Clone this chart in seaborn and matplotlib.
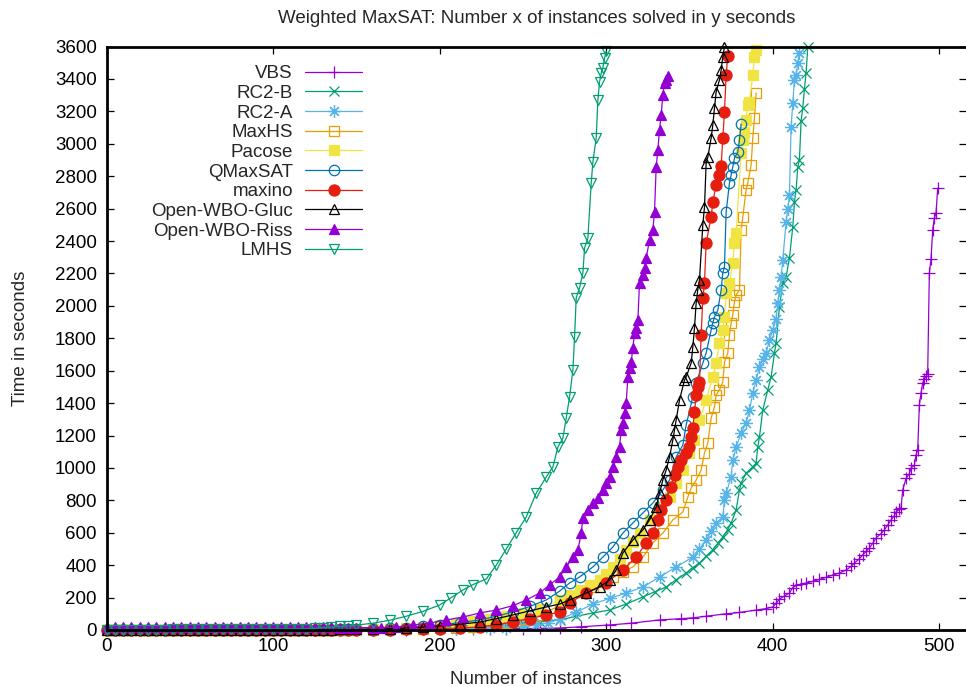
import matplotlib
matplotlib.use("Agg")
import matplotlib.pyplot as plt
import numpy as np
import pandas as pd
import seaborn as sns

# ---------------- data ----------------
title = "Weighted MaxSAT: Number x of instances solved in y seconds"
x_label = "Number of instances"
y_label = "Time in seconds"
solvers = ["VBS", "RC2-B", "RC2-A", "MaxHS", "Pacose", "QMaxSAT", "maxino",
           "Open-WBO-Gluc", "Open-WBO-Riss", "LMHS"]
x_ticks = [0, 100, 200, 300, 400, 500]
y_ticks = [0, 200, 400, 600, 800, 1000, 1200, 1400, 1600, 1800, 2000, 2200,
           2400, 2600, 2800, 3000, 3200, 3400, 3600]

# instance counts of the flat start shared by all solvers
early_n = [0, 5, 10, 15, 20, 25, 30, 35, 40, 45, 50, 55, 60, 65, 70, 75, 80,
           85, 90, 95, 100, 105, 110, 115, 120, 125, 130, 135, 140, 145, 150]

vbs_early = [1, 1, 1, 1, 1, 1, 1, 1, 1, 1, 1, 1, 1, 1, 1, 1, 1, 1, 1, 1, 2,
             2, 2, 2, 2, 2, 2, 2, 2, 2, 2]
vbs_n = [160, 170, 180, 190, 200, 210, 220, 230, 240, 250, 260,
         272, 285, 302, 315, 332, 345, 352, 360, 372, 380, 390, 396, 400, 402,
         404, 407, 410, 412, 414, 417, 420, 424, 428, 432, 436, 440, 444, 447,
         449, 452, 454, 456, 458, 460, 462, 465, 467, 469, 471, 473, 474, 476,
         477, 478, 480, 482, 483, 485, 486, 487, 488, 489, 490, 491, 492, 493,
         494, 495, 496, 497, 498, 499]
vbs_t = [2, 3, 3, 4, 4, 5, 6, 7, 8, 9, 10,
         12, 20, 31, 42, 62, 70, 75, 85, 100, 108, 123, 132, 142, 165,
         190, 210, 228, 262, 275, 283, 290, 300, 312, 325, 339, 352, 370, 392,
         413, 440, 463, 485, 506, 535, 568, 595, 617, 648, 679, 705, 728, 745,
         755, 864, 935, 965, 1000, 1018, 1080, 1111, 1388, 1462, 1524, 1549,
         1565, 1580, 2203, 2289, 2468, 2541, 2572, 2726]

rc2b_early = [2, 2, 2, 2, 2, 2, 2, 2, 2, 2, 2, 2, 2, 2, 2, 2, 2, 3, 3, 3, 3,
              3, 3, 3, 3, 3, 3, 3, 3, 4, 4]
rc2b_n = [160, 170, 180, 190, 200, 210, 220, 230, 240, 250, 260,
          272, 282, 292, 302, 312, 322, 329, 336, 342, 348, 352, 356, 360, 364,
          367, 370, 373, 375, 378, 380, 381, 384, 388, 390, 391, 392, 394, 397,
          399, 401, 402, 404, 406, 408, 410, 412, 413, 414, 415, 416, 417, 418,
          419, 420, 421]
rc2b_t = [5, 7, 10, 13, 18, 23, 28, 33, 38, 44, 50,
          62, 85, 105, 123, 160, 204, 235, 265, 310, 352, 385, 413, 455, 494,
          535, 574, 620, 660, 740, 864, 907, 968, 1006, 1030, 1129, 1191, 1357,
          1481, 1561, 1709, 1770, 1993, 2141, 2178, 2295, 2486, 2641, 2715,
          2857, 2900, 3140, 3221, 3338, 3437, 3597]

rc2a_early = [2, 2, 2, 2, 2, 2, 2, 2, 2, 2, 2, 2, 2, 2, 2, 2, 2, 2, 2, 3, 3,
              3, 3, 3, 3, 3, 3, 3, 3, 3, 4]
rc2a_n = [160, 170, 180, 190, 200, 210, 220, 230, 240, 250,
          258, 265, 272, 282, 292, 302, 312, 322, 332, 342, 352, 356, 360, 363,
          366, 370, 371, 372, 375, 376, 378, 381, 384, 386, 388, 390, 392, 394,
          396, 398, 400, 402, 403, 404, 405, 406, 408, 409, 410, 411, 412, 413,
          414, 415, 416]
rc2a_t = [4, 5, 6, 7, 8, 9, 10, 11, 15, 22,
          30, 45, 65, 110, 160, 195, 228, 265, 327, 389, 450, 500, 555, 610,
          660, 697, 802, 845, 944, 1049, 1129, 1215, 1277, 1357, 1462, 1542,
          1623, 1670, 1709, 1789, 1850, 1920, 2018, 2098, 2178, 2283, 2517,
          2600, 2684, 3104, 3250, 3394, 3425, 3500, 3560]

maxhs_early = [1, 1, 1, 1, 1, 1, 1, 1, 1, 1, 1, 1, 2, 2, 2, 2, 2, 2, 2, 2, 2,
               2, 2, 2, 2, 2, 2, 2, 2, 3, 3]
maxhs_n = [160, 170, 180, 190, 200, 210, 220, 230, 240, 250, 260,
           272, 278, 285, 292, 298, 304, 310, 316, 322, 328, 334, 340, 346,
           349, 351, 354, 357, 359, 361, 363, 365, 366, 368, 370, 371, 373,
           374, 375, 376, 377, 378, 380, 381, 382, 384, 385, 387, 388, 389, 390]
maxhs_t = [3, 4, 5, 7, 10, 15, 20, 30, 45, 65, 90,
           150, 204, 235, 265, 295, 327, 360, 389, 450, 537, 598, 679, 728,
           820, 876, 925, 987, 1092, 1154, 1308, 1376, 1450, 1481, 1530, 1654,
           1709, 1820, 1894, 1944, 2024, 2067, 2098, 2468, 2548, 2715, 2758,
           2869, 3036, 3159, 3313]

pacose_early = [1, 1, 1, 1, 1, 1, 1, 1, 1, 1, 2, 2, 2, 2, 2, 2, 2, 2, 2, 2, 2,
                2, 2, 2, 2, 2, 2, 3, 3, 3, 3]
pacose_n = [160, 170, 180, 190, 200, 210, 220, 230, 240, 250, 260,
            272, 278, 284, 290, 296, 300, 304, 308, 312, 316, 320, 326, 332,
            338, 342, 346, 350, 353, 356, 360, 364, 366, 368, 370, 371, 372,
            374, 376, 377, 378, 381, 382, 383, 384, 385, 386, 388, 389, 390]
pacose_t = [4, 7, 12, 20, 30, 42, 55, 70, 85, 105, 130,
            185, 215, 247, 280, 308, 345, 389, 440, 494, 545, 598, 679, 759,
            820, 907, 987, 1092, 1172, 1296, 1419, 1561, 1647, 1770, 1851,
            1931, 2079, 2141, 2264, 2388, 2450, 2943, 3023, 3073, 3147, 3240,
            3258, 3425, 3535, 3579]

qmaxsat_early = [1, 1, 1, 1, 1, 1, 1, 1, 1, 2, 2, 2, 2, 2, 2, 2, 2, 2, 2, 2,
                 2, 2, 3, 3, 3, 3, 3, 3, 4, 4, 5]
qmaxsat_n = [160, 170, 180, 190, 200, 212, 224, 234, 244, 254,
             264, 272, 278, 284, 292, 298, 304, 310, 316, 322, 328, 334, 338,
             342, 346, 348, 352, 354, 358, 360, 363, 364, 365, 367, 369, 370,
             371, 372, 374, 375, 376, 377, 379, 380, 381]
qmaxsat_t = [6, 10, 15, 22, 30, 45, 62, 85, 111, 145,
             185, 240, 290, 327, 389, 450, 512, 598, 660, 722, 783, 864, 925,
             1067, 1141, 1265, 1438, 1524, 1647, 1709, 1851, 1894, 1931, 1974,
             2098, 2203, 2240, 2579, 2758, 2807, 2857, 2912, 2949, 3023, 3122]

maxino_early = [1, 1, 1, 1, 1, 1, 1, 1, 1, 1, 1, 1, 1, 1, 1, 1, 1, 1, 1, 1, 1,
                1, 1, 1, 1, 1, 1, 1, 1, 1, 1]
maxino_n = [160, 170, 180, 190, 200, 212, 224, 234, 244, 254,
            264, 272, 278, 288, 300, 310, 318, 324, 328, 331, 333, 336, 339,
            341, 343, 345, 348, 350, 351, 352, 353, 354, 355, 356, 357, 358,
            359, 360, 363, 364, 366, 368, 369, 370, 371, 372, 373]
maxino_t = [2, 3, 4, 6, 8, 12, 19, 32, 49, 70,
            93, 111, 167, 228, 290, 370, 450, 537, 598, 679, 740, 802, 882,
            956, 1006, 1049, 1092, 1129, 1191, 1246, 1345, 1450, 1499, 1530,
            1820, 2048, 2141, 2388, 2548, 2641, 2746, 2807, 2863, 3036, 3197,
            3425, 3540]

gluc_early = [2, 2, 2, 2, 2, 2, 2, 2, 2, 2, 2, 2, 2, 2, 2, 2, 2, 2, 2, 3, 3,
              3, 3, 3, 3, 3, 3, 3, 4, 4, 4]
gluc_n = [160, 170, 180, 190, 200, 212, 224, 234, 244, 254,
          264, 272, 278, 288, 296, 302, 306, 310, 316, 322, 326, 330, 332, 334,
          336, 338, 340, 341, 342, 344, 347, 348, 351, 352, 353, 354, 355, 356,
          358, 359, 360, 361, 363, 364, 365, 366, 368, 369, 370, 371]
gluc_t = [5, 8, 12, 18, 25, 35, 49, 70, 93, 118,
          142, 160, 185, 228, 265, 308, 370, 475, 555, 617, 679, 759, 845, 925,
          987, 1067, 1172, 1234, 1296, 1419, 1542, 1561, 1647, 1746, 1863,
          2018, 2100, 2160, 2500, 2610, 2880, 2918, 3036, 3116, 3220, 3320,
          3394, 3455, 3535, 3600]

riss_early = [16, 16, 16, 16, 16, 16, 16, 16, 16, 16, 16, 16, 16, 16, 16, 16,
              16, 16, 16, 16, 16, 16, 16, 16, 16, 16, 16, 16, 15, 15, 15]
riss_n = [160, 165, 174, 184, 194, 204, 214, 224, 234, 244,
          252, 260, 266, 272, 276, 280, 283, 285, 286, 289, 292, 295, 298, 300,
          302, 304, 306, 308, 309, 310, 311, 312, 313, 314, 315, 316, 317, 318,
          319, 320, 322, 323, 324, 326, 328, 329, 330, 331, 332, 333, 334, 335,
          336, 337]
riss_t = [15, 15, 18, 31, 43, 62, 80, 105, 123, 150,
          185, 228, 278, 327, 389, 450, 494, 598, 691, 740, 783, 814, 864, 907,
          944, 1006, 1067, 1129, 1234, 1277, 1339, 1400, 1561, 1616, 1654,
          1740, 1832, 1863, 1913, 2141, 2190, 2234, 2295, 2406, 2468, 2579,
          2857, 2962, 3085, 3178, 3301, 3375, 3394, 3420]

lmhs_early = [3, 3, 3, 3, 3, 3, 3, 3, 4, 4, 4, 4, 4, 5, 5, 5, 5, 5, 6, 6, 6,
              6, 7, 7, 8, 10, 15, 18, 22, 26, 30]
lmhs_n = [160, 170, 180, 190, 200, 207, 214, 220, 228, 234,
          240, 246, 252, 258, 264, 268, 271, 274, 276, 278, 280, 281, 282, 284,
          286, 287, 289, 291, 292, 294, 295, 296, 297, 298, 299, 300]
lmhs_t = [42, 60, 85, 115, 154, 200, 247, 280, 315, 400,
          500, 600, 697, 845, 944, 1006, 1129, 1185, 1308, 1438, 1604, 1808,
          2050, 2110, 2203, 2357, 2419, 2758, 2888, 3036, 3270, 3381, 3437,
          3467, 3529, 3570]

series = {
    "VBS": (vbs_early, vbs_n, vbs_t),
    "RC2-B": (rc2b_early, rc2b_n, rc2b_t),
    "RC2-A": (rc2a_early, rc2a_n, rc2a_t),
    "MaxHS": (maxhs_early, maxhs_n, maxhs_t),
    "Pacose": (pacose_early, pacose_n, pacose_t),
    "QMaxSAT": (qmaxsat_early, qmaxsat_n, qmaxsat_t),
    "maxino": (maxino_early, maxino_n, maxino_t),
    "Open-WBO-Gluc": (gluc_early, gluc_n, gluc_t),
    "Open-WBO-Riss": (riss_early, riss_n, riss_t),
    "LMHS": (lmhs_early, lmhs_n, lmhs_t),
}

frames = []
for name in solvers:
    early, n, t = series[name]
    assert len(early) == len(early_n), name
    assert len(n) == len(t), (name, len(n), len(t))
    frames.append(pd.DataFrame({"solver": name,
                                "n": list(early_n) + list(n),
                                "time": list(early) + list(t)}))
df = pd.concat(frames, ignore_index=True)

# ---------------- styles ----------------
styles = {
    "VBS":           dict(color="#9400d3", marker="+", ms=8, fill=True),
    "RC2-B":         dict(color="#009e73", marker="x", ms=7, fill=True),
    "RC2-A":         dict(color="#56b4e9", marker=(8, 2, 0), ms=9, fill=True),
    "MaxHS":         dict(color="#e69f00", marker="s", ms=7, fill=False),
    "Pacose":        dict(color="#f0e442", marker="s", ms=7, fill=True),
    "QMaxSAT":       dict(color="#0072b2", marker="o", ms=7.5, fill=False),
    "maxino":        dict(color="#e51e10", marker="o", ms=8, fill=True),
    "Open-WBO-Gluc": dict(color="#000000", marker="^", ms=7.5, fill=False),
    "Open-WBO-Riss": dict(color="#9400d3", marker="^", ms=7.5, fill=True),
    "LMHS":          dict(color="#009e73", marker="v", ms=7.5, fill=False),
}

sns.set_style("ticks")
plt.rcParams["font.family"] = ["Liberation Sans", "DejaVu Sans"]
FS = 13.5

fig = plt.figure(figsize=(9.66, 6.87), dpi=100)
W, H = 966.0, 687.0
x0, x1 = 106.5, 966.0
y0, y1 = 630.0, 46.5
ax = fig.add_axes([x0 / W, 1 - y0 / H, (x1 - x0) / W, (y0 - y1) / H])

for name in solvers:
    st = styles[name]
    sub = df[df["solver"] == name]
    kw = dict(marker=st["marker"], markersize=st["ms"], markeredgewidth=0.9,
              markeredgecolor=st["color"])
    kw["markerfacecolor"] = st["color"] if st["fill"] else "none"
    sns.lineplot(data=sub, x="n", y="time", ax=ax, color=st["color"],
                 linewidth=0.9, estimator=None, sort=False, label=name,
                 clip_on=False, **kw)

ax.set_xlim(0, 516)
ax.set_ylim(0, 3600)
ax.set_xticks(x_ticks)
ax.set_yticks(y_ticks)
ax.tick_params(direction="in", length=5, width=0.9, top=True, right=True,
               labelsize=FS, colors="black")
ax.tick_params(axis="y", pad=7)
ax.tick_params(axis="x", pad=6)
for side in ["left", "top", "bottom"]:
    ax.spines[side].set_linewidth(2.0)
    ax.spines[side].set_color("black")
    ax.spines[side].set_zorder(5)
ax.spines["right"].set_visible(False)
ax.grid(False)

ax.set_title(title, fontsize=FS, pad=17.2)
ax.set_xlabel(x_label, fontsize=FS)
ax.set_ylabel(y_label, fontsize=FS)
ax.xaxis.set_label_coords(0.5, (y0 - 671) / (y0 - y1))
ax.yaxis.set_label_coords((29 - x0) / (x1 - x0), 0.5)

leg = ax.legend(loc="upper right",
                bbox_to_anchor=((362 - x0) / (x1 - x0), (y0 - 65) / (y0 - y1)),
                frameon=False, markerfirst=False, handlelength=3.04,
                handletextpad=0.64, labelspacing=0.137, borderpad=0,
                borderaxespad=0, numpoints=1, fontsize=FS)

fig.savefig("out.png", dpi=100)
